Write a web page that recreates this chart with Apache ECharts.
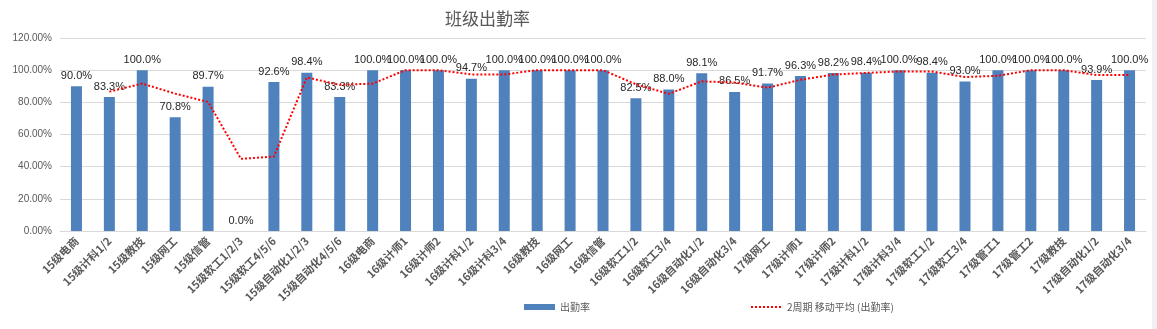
<!DOCTYPE html>
<html>
<head>
<meta charset="utf-8">
<script src="https://cdn.jsdelivr.net/npm/echarts@6/dist/echarts.min.js"></script>
<style>
  html, body { margin: 0; padding: 0; background: #fff; }
  #chart { width: 1157px; height: 329px; }
</style>
</head>
<body>
<div id="chart"></div>
<script>
// Class names along the x axis
const classes = [
  '15级电商', '15级计科1/2', '15级教技', '15级网工', '15级信管', '15级软工1/2/3',
  '15级软工4/5/6', '15级自动化1/2/3', '15级自动化4/5/6', '16级电商', '16级计师1',
  '16级计师2', '16级计科1/2', '16级计科3/4', '16级教技', '16级网工', '16级信管',
  '16级软工1/2', '16级软工3/4', '16级自动化1/2', '16级自动化3/4', '17级网工',
  '17级计师1', '17级计师2', '17级计科1/2', '17级计科3/4', '17级软工1/2',
  '17级软工3/4', '17级管工1', '17级管工2', '17级教技', '17级自动化1/2', '17级自动化3/4'
];

// Attendance rate per class (%)
const attendance = [
  90.0, 83.3, 100.0, 70.8, 89.7, 0.0,
  92.6, 98.4, 83.3, 100.0, 100.0,
  100.0, 94.7, 100.0, 100.0, 100.0, 100.0,
  82.5, 88.0, 98.1, 86.5, 91.7,
  96.3, 98.2, 98.4, 100.0, 98.4,
  93.0, 100.0, 100.0, 100.0, 93.9, 100.0
];

// 2-period moving average of the attendance rate (%)
const movingAvg = [
  null, 86.65, 91.65, 85.4, 80.25, 44.85,
  46.3, 95.5, 90.85, 91.65, 100.0,
  100.0, 97.35, 97.35, 100.0, 100.0, 100.0,
  91.25, 85.25, 93.05, 92.3, 89.1,
  94.0, 97.25, 98.3, 99.2, 99.2,
  95.7, 96.5, 100.0, 100.0, 96.95, 96.95
];

// Y axis tick values (%)
const yTicks = [0, 20, 40, 60, 80, 100, 120];

const FONT = '"Liberation Sans", "Noto Sans CJK SC", sans-serif';
const CJK = '"Noto Sans CJK SC", sans-serif';
const GREY = '#595959';

const chart = echarts.init(document.getElementById('chart'), null, { renderer: 'canvas' });

chart.setOption({
  animation: false,
  backgroundColor: '#ffffff',
  textStyle: { fontFamily: FONT },
  title: {
    text: '班级出勤率',
    left: 440,
    top: 5,
    textStyle: { fontFamily: CJK, fontSize: 17, fontWeight: 'normal', color: GREY }
  },
  legend: [
    {
      data: ['出勤率'],
      left: 519,
      top: 297,
      itemWidth: 31,
      itemHeight: 6,
      icon: 'rect',
      textStyle: { fontFamily: CJK, fontSize: 10, color: GREY }
    },
    {
      data: ['2周期 移动平均 (出勤率)'],
      left: 745,
      top: 297,
      itemWidth: 31,
      itemHeight: 6,
      itemStyle: { opacity: 0 },
      lineStyle: { color: '#ff0000', width: 2, type: [2, 2] },
      textStyle: { fontFamily: CJK, fontSize: 10, color: GREY }
    }
  ],
  grid: { left: 60, right: 11, top: 38, bottom: 98, containLabel: false },
  xAxis: {
    type: 'category',
    data: classes,
    axisTick: { show: false },
    axisLine: { lineStyle: { color: '#d9d9d9', width: 1 } },
    axisLabel: {
      interval: 0,
      rotate: 45,
      margin: 8,
      fontSize: 11,
      fontWeight: 'bold',
      color: GREY,
      fontFamily: CJK
    }
  },
  yAxis: {
    type: 'value',
    min: yTicks[0],
    max: yTicks[yTicks.length - 1],
    interval: yTicks[1] - yTicks[0],
    axisLine: { show: false },
    axisTick: { show: false },
    splitLine: { lineStyle: { color: '#d9d9d9', width: 1 } },
    axisLabel: {
      margin: 8,
      fontSize: 10,
      color: GREY,
      formatter: v => v.toFixed(2) + '%'
    }
  },
  series: [
    {
      name: '出勤率',
      type: 'bar',
      data: attendance,
      barWidth: 11,
      itemStyle: { color: '#4f81bd' },
      label: {
        show: true,
        position: 'top',
        distance: 5,
        fontSize: 11,
        color: '#262626',
        fontFamily: FONT,
        formatter: p => p.value.toFixed(1) + '%'
      },
      z: 2
    },
    {
      name: '2周期 移动平均 (出勤率)',
      type: 'line',
      data: movingAvg,
      symbol: 'none',
      showSymbol: false,
      connectNulls: false,
      lineStyle: { color: '#ff0000', width: 2, type: [2, 2] },
      itemStyle: { color: '#ff0000' },
      z: 3
    }
  ],
  graphic: [
    {
      type: 'rect',
      shape: { x: 1152, y: 0, width: 5, height: 329 },
      style: { fill: '#f0f0f0' },
      silent: true
    }
  ]
});
</script>
</body>
</html>
